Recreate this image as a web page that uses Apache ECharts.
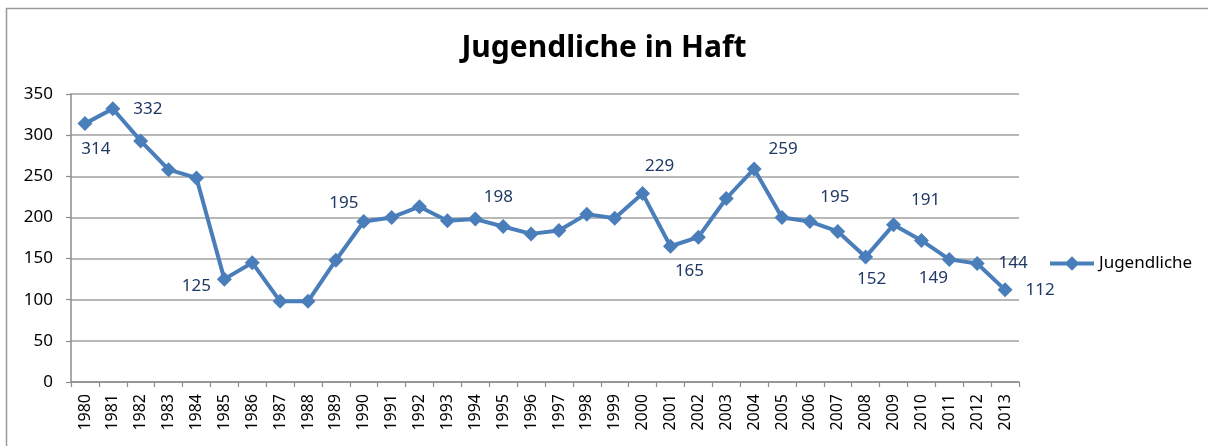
<!DOCTYPE html>
<html>
<head>
<meta charset="utf-8">
<script src="https://cdn.jsdelivr.net/npm/echarts@6/dist/echarts.min.js"></script>
<style>
  html, body { margin: 0; padding: 0; background: #fff; }
  #chart { width: 1208px; height: 446px; }
</style>
</head>
<body>
<div id="chart"></div>
<script>
// Jahre (Kategorien) und Anzahl Jugendlicher in Haft
const years = ['1980','1981','1982','1983','1984','1985','1986','1987','1988','1989',
  '1990','1991','1992','1993','1994','1995','1996','1997','1998','1999',
  '2000','2001','2002','2003','2004','2005','2006','2007','2008','2009',
  '2010','2011','2012','2013'];
const jugendliche = [314, 332, 293, 258, 248, 125, 145, 98, 98, 148,
  195, 200, 213, 196, 198, 189, 180, 184, 204, 199,
  229, 165, 176, 223, 259, 200, 195, 183, 152, 191,
  172, 149, 144, 112];
const yTicks = [0, 50, 100, 150, 200, 250, 300, 350];

// Jahre mit Datenbeschriftung und deren Versatz zum Punkt
const labelOffsets = {
  '1980': [11, 26], '1981': [35, 0], '1985': [-28, 7], '1990': [-20, -18],
  '1994': [23, -22], '2000': [17, -27], '2001': [19, 25], '2004': [29, -20],
  '2006': [25, -24], '2008': [6, 22], '2009': [32, -25], '2011': [-16, 19],
  '2012': [36, 0], '2013': [35, 0]
};

const seriesData = jugendliche.map((v, i) => {
  const off = labelOffsets[years[i]];
  return off
    ? { value: v, label: { show: true, position: 'inside', offset: off } }
    : { value: v };
});

const chart = echarts.init(document.getElementById('chart'), null, { renderer: 'canvas' });
chart.setOption({
  animation: false,
  backgroundColor: '#ffffff',
  title: {
    text: 'Jugendliche in Haft',
    left: 'center',
    top: 28,
    textStyle: { fontFamily: 'Noto Sans', fontWeight: 'bold', fontSize: 30, color: '#000' }
  },
  graphic: [{
    type: 'rect',
    shape: { x: 6.5, y: 8.5, width: 1400, height: 600 },
    style: { fill: 'none', stroke: '#9a9a9a', lineWidth: 1.5 },
    silent: true
  }],
  legend: {
    data: ['Jugendliche'],
    left: 1043,
    top: 250,
    itemWidth: 44,
    itemHeight: 18,
    lineStyle: { width: 4 },
    textStyle: { fontFamily: 'Noto Sans', fontSize: 17, color: '#000' }
  },
  grid: { left: 71, right: 189, top: 94, bottom: 64, containLabel: false },
  xAxis: {
    type: 'category',
    data: years,
    boundaryGap: true,
    axisLine: { lineStyle: { color: '#8c8c8c', width: 1.5 } },
    axisTick: { show: true, inside: false, length: 5, alignWithLabel: false,
      lineStyle: { color: '#8c8c8c', width: 1.2 } },
    axisLabel: { rotate: 90, interval: 0, margin: 12,
      fontFamily: 'Noto Sans', fontSize: 16, color: '#000' },
    splitLine: { show: false }
  },
  yAxis: {
    type: 'value',
    min: yTicks[0],
    max: yTicks[yTicks.length - 1],
    interval: 50,
    axisLine: { show: true, lineStyle: { color: '#8c8c8c', width: 1.5 } },
    axisTick: { show: true, length: 5, lineStyle: { color: '#8c8c8c', width: 1.2 } },
    axisLabel: { margin: 18, fontFamily: 'Noto Sans', fontSize: 17, color: '#000' },
    splitLine: { show: true, lineStyle: { color: '#a0a0a0', width: 1.5 } }
  },
  series: [{
    name: 'Jugendliche',
    type: 'line',
    data: seriesData,
    symbol: 'diamond',
    symbolSize: 15,
    showAllSymbol: true,
    lineStyle: { color: '#4a7ebb', width: 4 },
    itemStyle: { color: '#4a7ebb' },
    label: {
      show: false,
      fontFamily: 'Noto Sans',
      fontSize: 17,
      color: '#1f3864'
    }
  }]
});
</script>
</body>
</html>
